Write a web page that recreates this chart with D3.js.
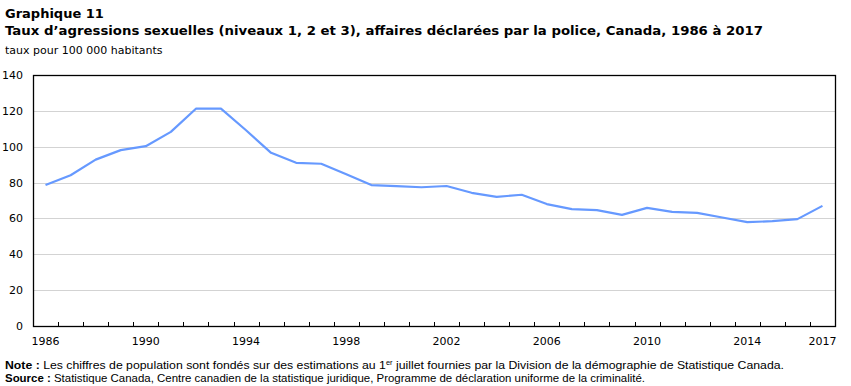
<!DOCTYPE html>
<html>
<head>
<meta charset="utf-8">
<script src="https://cdn.jsdelivr.net/npm/d3@7"></script>
<style>
body { margin: 0; background: #fff; }
svg text { font-family: Verdana, "DejaVu Sans", sans-serif; fill: #000; }
.note text, text.note { font-family: "Liberation Sans Narrow", "Liberation Sans", sans-serif; }
</style>
</head>
<body>
<svg id="chart" width="851" height="386"></svg>
<script>
// données
var years = d3.range(1986, 2018);
var rates = [78.6, 84.1, 92.8, 98.1, 100.3, 108.3, 121.2, 121.2, 109.2, 96.6, 91.0, 90.5, 84.6, 78.6, 78.0, 77.4, 78.1,
             74.3, 72.0, 73.2, 68.0, 65.2, 64.6, 62.0, 65.9, 63.7, 63.1, 60.5, 57.9, 58.5, 59.6, 67.0];
var yTicks = [0, 20, 40, 60, 80, 100, 120, 140];
var xLabels = [1986, 1990, 1994, 1998, 2002, 2006, 2010, 2014, 2017];

var svg = d3.select('#chart');
var plotL = 33, plotR = 835, plotT = 75, plotB = 326;

var x = d3.scaleBand().domain(years).range([plotL, plotR]);
var y = d3.scaleLinear().domain([0, 140]).range([plotB, plotT]);

// titres
svg.append('text').attr('x', 5).attr('y', 18)
    .style('font-size', '13px').style('font-weight', 'bold')
    .text('Graphique  11');
svg.append('text').attr('x', 5).attr('y', 35)
    .style('font-size', '13px').style('font-weight', 'bold')
    .attr('textLength', 758).attr('lengthAdjust', 'spacingAndGlyphs')
    .text('Taux d\u2019agressions sexuelles (niveaux 1, 2 et 3), affaires d\u00e9clar\u00e9es par la police, Canada, 1986 \u00e0 2017');
svg.append('text').attr('x', 5).attr('y', 54)
    .style('font-size', '11px')
    .text('taux pour 100 000 habitants');

// grille
svg.append('g').selectAll('line')
    .data(yTicks.filter(function(d){ return d > 0 && d < 140; }))
    .enter().append('line')
    .attr('x1', plotL).attr('x2', plotR)
    .attr('y1', function(d){ return Math.round(y(d)) + 0.5; })
    .attr('y2', function(d){ return Math.round(y(d)) + 0.5; })
    .attr('stroke', '#d3d3d3').attr('stroke-width', 1);

// étiquettes axe y
svg.append('g').selectAll('text')
    .data(yTicks)
    .enter().append('text')
    .attr('x', 23).attr('y', function(d){ return y(d) + 4; })
    .attr('text-anchor', 'end')
    .style('font-size', '11px')
    .text(function(d){ return d; });

// graduations axe x (entre les années)
svg.append('g').selectAll('line')
    .data(years.slice(1))
    .enter().append('line')
    .attr('x1', function(d){ return Math.round(x(d)) + 0.5; })
    .attr('x2', function(d){ return Math.round(x(d)) + 0.5; })
    .attr('y1', plotB).attr('y2', plotB - 4)
    .attr('stroke', '#000');

svg.append('g').selectAll('text')
    .data(xLabels)
    .enter().append('text')
    .attr('x', function(d){ return x(d) + x.bandwidth() / 2; })
    .attr('y', 345)
    .attr('text-anchor', 'middle')
    .style('font-size', '11px')
    .text(function(d){ return d; });

// ligne
var line = d3.line()
    .x(function(d, i){ return x(years[i]) + x.bandwidth() / 2; })
    .y(function(d){ return y(d); });
svg.append('path').datum(rates)
    .attr('d', line)
    .attr('fill', 'none')
    .attr('stroke', '#6699ff')
    .attr('stroke-width', 2.2)
    .attr('stroke-linejoin', 'round');

// cadre
svg.append('rect')
    .attr('x', plotL + 0.5).attr('y', plotT + 0.5)
    .attr('width', plotR - plotL).attr('height', plotB - plotT)
    .attr('fill', 'none').attr('stroke', '#000').attr('stroke-width', 1.3);

// notes
var note = svg.append('text').attr('class', 'note').attr('x', 5).attr('y', 369)
    .style('font-size', '11.5px')
    .attr('textLength', 779).attr('lengthAdjust', 'spacingAndGlyphs');
note.append('tspan').style('font-weight', 'bold').text('Note : ');
note.append('tspan').text('Les chiffres de population sont fond\u00e9s sur des estimations au 1');
note.append('tspan').attr('dy', -4).style('font-size', '7px').text('er');
note.append('tspan').attr('dy', 4).text(' juillet fournies par la Division de la d\u00e9mographie de Statistique Canada.');

var src = svg.append('text').attr('class', 'note').attr('x', 5).attr('y', 382)
    .style('font-size', '11.5px')
    .attr('textLength', 640).attr('lengthAdjust', 'spacingAndGlyphs');
src.append('tspan').style('font-weight', 'bold').text('Source : ');
src.append('tspan').text('Statistique Canada, Centre canadien de la statistique juridique, Programme de d\u00e9claration uniforme de la criminalit\u00e9.');
</script>
</body>
</html>
